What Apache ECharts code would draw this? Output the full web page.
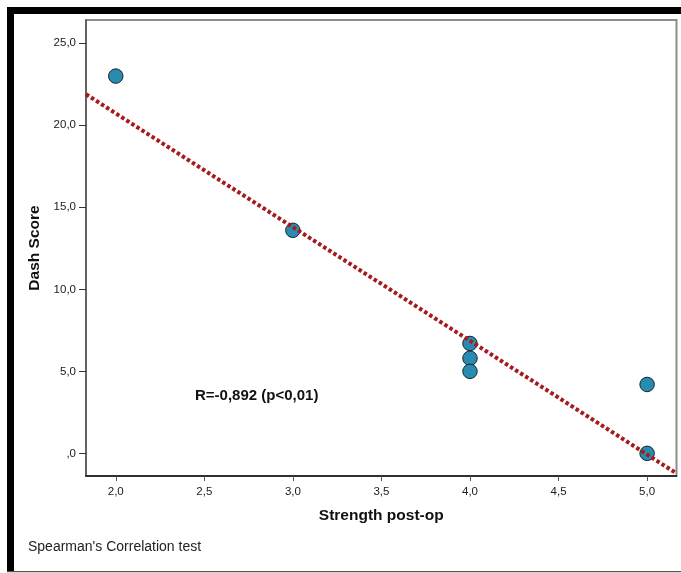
<!DOCTYPE html>
<html>
<head>
<meta charset="utf-8">
<script src="https://cdn.jsdelivr.net/npm/echarts@6/dist/echarts.min.js"></script>
<style>
  html, body { margin: 0; padding: 0; background: #ffffff; }
  #chart { width: 681px; height: 573px; }
</style>
</head>
<body>
<div id="chart"></div>
<script>
// Strength post-op vs Dash Score
const strength = [2, 3, 4, 4, 4, 5, 5];
const dashScore = [23.0, 13.6, 6.7, 5.8, 5.0, 4.2, 0.0];

// Fitted line, evaluated at the ends of the x range
const fitX = [1.832, 5.166];
const fitY = [21.89, -1.22];

// Tick values
const xTicks = [2.0, 2.5, 3.0, 3.5, 4.0, 4.5, 5.0];
const yTicks = [0, 5, 10, 15, 20, 25];

const statText = 'R=-0,892 (p<0,01)';
const footText = "Spearman's Correlation test";

const points = strength.map((x, i) => [x, dashScore[i]]);
const fitPoints = fitX.map((x, i) => [x, fitY[i]]);

// Decimal comma, and zero shown as ",0"
function fmt(v) {
  let s = Number(v).toFixed(1).replace('.', ',');
  if (s.startsWith('0,')) s = s.slice(1);
  return s;
}

const chart = echarts.init(document.getElementById('chart'), null, { renderer: 'canvas' });
const font = 'Liberation Sans, Arial, sans-serif';

chart.setOption({
  animation: false,
  backgroundColor: '#ffffff',
  grid: {
    left: 86, top: 20, right: 4.5, bottom: 97,
    show: true, borderColor: '#8c8c8c', borderWidth: 2, backgroundColor: '#ffffff'
  },
  xAxis: {
    type: 'value',
    min: 1.832, max: 5.166,
    name: 'Strength post-op',
    nameLocation: 'middle',
    nameGap: 32,
    nameTextStyle: { fontFamily: font, fontSize: 15.5, fontWeight: 'bold', color: '#111' },
    splitLine: { show: false },
    axisLine: { show: true, onZero: false, lineStyle: { color: '#111', width: 1.5 } },
    axisTick: { show: true, length: 5, customValues: xTicks, lineStyle: { color: '#555' } },
    axisLabel: {
      customValues: xTicks, formatter: fmt, margin: 10,
      fontFamily: font, fontSize: 11.5, color: '#1a1a1a'
    }
  },
  yAxis: {
    type: 'value',
    min: -1.38, max: 26.42,
    name: 'Dash Score',
    nameLocation: 'middle',
    nameGap: 43,
    nameTextStyle: { fontFamily: font, fontSize: 15.5, fontWeight: 'bold', color: '#111' },
    splitLine: { show: false },
    axisLine: { show: true, onZero: false, lineStyle: { color: '#555', width: 1.5 } },
    axisTick: { show: true, length: 7, customValues: yTicks, lineStyle: { color: '#333' } },
    axisLabel: {
      customValues: yTicks, formatter: fmt, margin: 10,
      fontFamily: font, fontSize: 11.5, color: '#1a1a1a'
    }
  },
  series: [
    {
      type: 'scatter',
      data: points,
      symbol: 'circle',
      symbolSize: 14.5,
      itemStyle: { color: '#2a8bb1', borderColor: '#17252e', borderWidth: 1, opacity: 1 },
      z: 2
    },
    {
      type: 'line',
      data: fitPoints,
      symbol: 'none',
      lineStyle: { color: '#a61a1e', width: 4, type: [3.5, 2.5], cap: 'butt' },
      z: 3,
      silent: true
    }
  ],
  graphic: [
    { type: 'rect', shape: { x: 7, y: 7, width: 674, height: 7 }, style: { fill: '#000' } },
    { type: 'rect', shape: { x: 7, y: 7, width: 7, height: 565 }, style: { fill: '#000' } },
    { type: 'rect', shape: { x: 7, y: 571, width: 674, height: 1.2 }, style: { fill: '#555' } },
    {
      type: 'text', left: 195, top: 388,
      style: { text: statText, font: 'bold 15px ' + font, fill: '#111' }
    },
    {
      type: 'text', left: 28, top: 540,
      style: { text: footText, font: '14px ' + font, fill: '#222' }
    }
  ]
});
</script>
</body>
</html>
